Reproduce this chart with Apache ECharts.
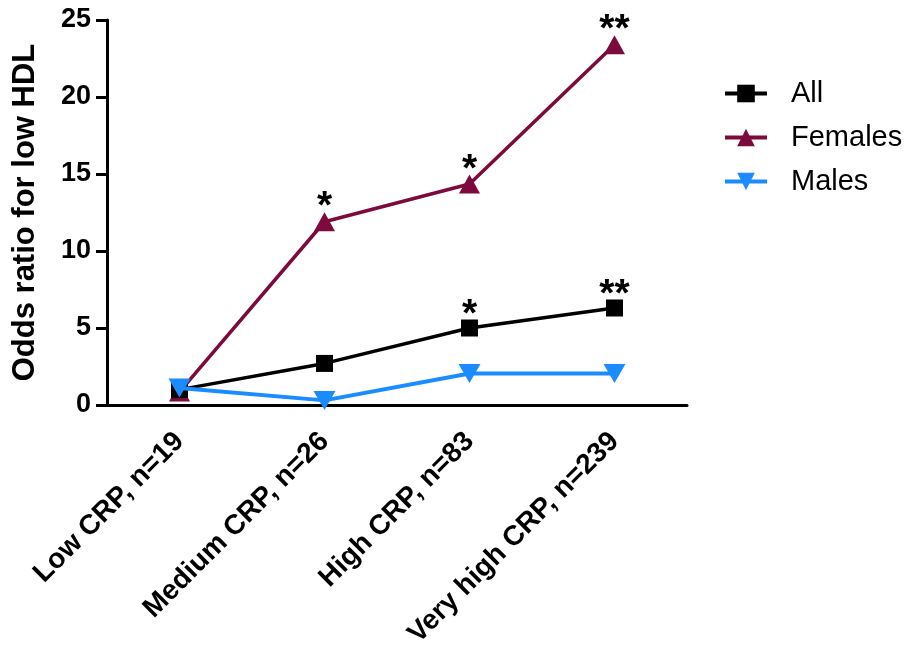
<!DOCTYPE html>
<html>
<head>
<meta charset="utf-8">
<script src="https://cdn.jsdelivr.net/npm/echarts@6/dist/echarts.min.js"></script>
<style>
  html, body { margin: 0; padding: 0; background: #fff; }
  #chart { width: 915px; height: 655px; }
</style>
</head>
<body>
<div id="chart"></div>
<script>
// CRP groups on the x axis
const categories = ['Low CRP, n=19', 'Medium CRP, n=26', 'High CRP, n=83', 'Very high CRP, n=239'];

// Odds ratios for low HDL per group
const allValues = [1.0, 2.7, 5.0, 6.3];
const femaleValues = [0.85, 11.9, 14.35, 23.4];
const maleValues = [1.1, 0.3, 2.05, 2.05];

// Significance marks shown above points
const allSig = ['', '', '*', '**'];
const femaleSig = ['', '*', '*', '**'];

// Y axis ticks
const yMin = 0, yMax = 25, yStep = 5;

const FONT = '"Liberation Sans", Arial, sans-serif';
const downTriangle = 'path://M0,0 L10,0 L5,9 Z';

function withSig(values, sig) {
  return values.map((v, i) => ({
    value: v,
    label: {
      show: sig[i] !== '',
      formatter: sig[i],
      position: 'top',
      distance: 0,
      offset: [0, 15],
      color: '#000',
      fontSize: 39,
      fontWeight: 'bold',
      fontFamily: FONT,
      lineHeight: 39
    }
  }));
}

const chart = echarts.init(document.getElementById('chart'));
chart.setOption({
  animation: false,
  backgroundColor: '#fff',
  grid: { left: 107, right: 228, top: 20, bottom: 250 },
  legend: {
    orient: 'vertical',
    left: 718,
    top: 74,
    itemWidth: 42,
    itemHeight: 22,
    itemGap: 15,
    lineStyle: { width: 4 },
    textStyle: { fontSize: 29, lineHeight: 22, fontFamily: FONT, color: '#000', padding: [0, 0, 0, 19] },
    data: ['All', 'Females', 'Males']
  },
  xAxis: {
    type: 'category',
    data: categories,
    boundaryGap: true,
    axisLine: { lineStyle: { color: '#000', width: 3 } },
    axisTick: { alignWithLabel: true, length: 10, lineStyle: { width: 3, color: '#000' } },
    axisLabel: {
      rotate: 45,
      margin: 32,
      color: '#000',
      fontSize: 28,
      fontWeight: 'bold',
      fontFamily: FONT,
      interval: 0
    }
  },
  yAxis: {
    type: 'value',
    min: yMin,
    max: yMax,
    interval: yStep,
    name: 'Odds ratio for low HDL',
    nameLocation: 'middle',
    nameGap: 66,
    nameTextStyle: { fontSize: 31, fontWeight: 'bold', fontFamily: FONT, color: '#000' },
    splitLine: { show: false },
    axisLine: { show: true, lineStyle: { color: '#000', width: 3 } },
    axisTick: { show: true, length: 11, lineStyle: { width: 3, color: '#000' } },
    axisLabel: { color: '#000', fontSize: 27, fontWeight: 'bold', fontFamily: FONT, margin: 16 }
  },
  series: [
    {
      name: 'All',
      type: 'line',
      data: withSig(allValues, allSig),
      symbol: 'rect',
      symbolSize: 17,
      itemStyle: { color: '#000' },
      lineStyle: { color: '#000', width: 3.5 },
      z: 3
    },
    {
      name: 'Females',
      type: 'line',
      data: withSig(femaleValues, femaleSig),
      symbol: 'triangle',
      symbolSize: [21, 19],
      itemStyle: { color: '#7d0a3c' },
      lineStyle: { color: '#7d0a3c', width: 3.5 },
      z: 2
    },
    {
      name: 'Males',
      type: 'line',
      data: maleValues,
      symbol: downTriangle,
      symbolSize: [22, 19],
      itemStyle: { color: '#1a8cff' },
      lineStyle: { color: '#1a8cff', width: 4 },
      z: 4
    }
  ]
});
</script>
</body>
</html>
